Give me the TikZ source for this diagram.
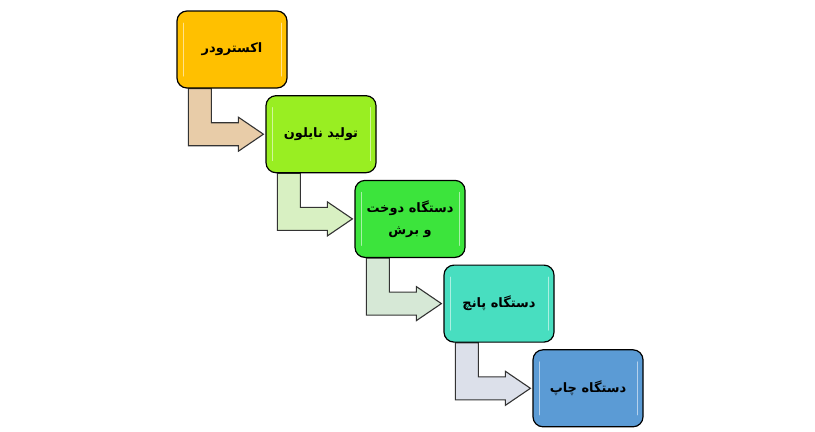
\documentclass[tikz,border=0pt]{standalone}
\usepackage{fontspec}
\newfontfamily\persianfont[Script=Arabic, BoldFont={DejaVu Sans Bold}]{DejaVu Sans}
\TeXXeTstate=1
\usetikzlibrary{calc}
\usetikzlibrary{positioning}
\usetikzlibrary{backgrounds}

\definecolor{extruderfill}{HTML}{FFC000}
\definecolor{nylonfill}{HTML}{99EE22}
\definecolor{sewingfill}{HTML}{3CE43C}
\definecolor{punchfill}{HTML}{48DEC0}
\definecolor{printfill}{HTML}{5B9BD5}
\definecolor{arrowtan}{HTML}{E8CCA8}
\definecolor{arrowlime}{HTML}{D8F0C2}
\definecolor{arrowsage}{HTML}{D6E8D6}
\definecolor{arrowslate}{HTML}{DCE0EA}

\tikzset{
  stagebox/.style={draw=black, line width=1.2bp, rounded corners=10bp,
    minimum width=110bp, minimum height=77bp, inner sep=0pt, align=center,
    font=\persianfont\bfseries\fontsize{13}{22}\selectfont,
    path picture={
      \draw[white, opacity=.55, line width=1bp, line cap=round]
        ($(path picture bounding box.north west)+(6,12)$) -- ($(path picture bounding box.south west)+(6,-12)$)
        ($(path picture bounding box.north east)+(-6,12)$) -- ($(path picture bounding box.south east)+(-6,-12)$);
    }},
  flowarrow/.style={draw=black!80, line width=1.1bp, line join=miter}
}

% bent arrow from the bottom of one stage to the left side of the next
\newcommand{\flowstep}[3]{%
  \coordinate (#1-a) at ($(#1.south west)+(12,0)$);
  \coordinate (#1-b) at ($(#1.south west)+(35,0)$);
  \coordinate (#2-h) at ($(#2.west)+(-27,0)$);
  \coordinate (#2-t) at ($(#2.west)+(-2,0)$);
  \draw[flowarrow, fill=#3] (#1-a) -- (#1-b) -- ($(#1-b |- #2-h)+(0,-11.5)$)
    -- ($(#2-h)+(0,-11.5)$) -- ($(#2-h)+(0,-17)$) -- (#2-t) -- ($(#2-h)+(0,17)$)
    -- ($(#2-h)+(0,11.5)$) -- ($(#1-a |- #2-h)+(0,11.5)$) -- cycle;
}

\begin{document}
\begin{tikzpicture}[x=1bp, y=-1bp]
\useasboundingbox (0,0) rectangle (815,431);
\node[stagebox, fill=extruderfill] (extruder) at (232,49.5) {\beginR اکسترودر\endR};
\node[stagebox, fill=nylonfill]    (nylon)    at (321,134.2) {\beginR تولید نایلون\endR};
\node[stagebox, fill=sewingfill]   (sewing)   at (410,218.9) {\beginR دستگاه دوخت\endR\\\beginR و برش\endR};
\node[stagebox, fill=punchfill]    (punch)    at (499,303.6) {\beginR دستگاه پانچ\endR};
\node[stagebox, fill=printfill]    (printing) at (588,388.3) {\beginR دستگاه چاپ\endR};
\begin{scope}[on background layer]
\foreach \a/\b/\c in {extruder/nylon/arrowtan, nylon/sewing/arrowlime, sewing/punch/arrowsage, punch/printing/arrowslate}
  \flowstep{\a}{\b}{\c};
\end{scope}
\end{tikzpicture}
\end{document}
